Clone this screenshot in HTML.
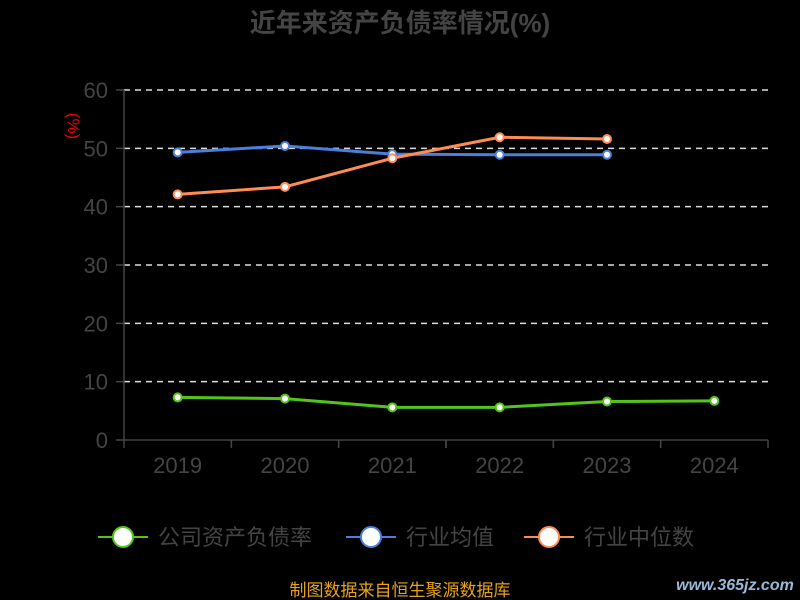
<!DOCTYPE html>
<html><head><meta charset="utf-8"><style>
body{margin:0;background:#000;}
svg{display:block;font-family:"Liberation Sans","Noto Sans CJK SC",sans-serif;}
</style></head><body>
<svg id="c" width="800" height="600" viewBox="0 0 800 600">
<text x="400" y="32" text-anchor="middle" font-size="26" font-weight="bold" fill="#444">近年来资产负债率情况(%)</text>
<text transform="translate(68,126) rotate(90)" text-anchor="middle" font-size="17" fill="#e00">(%)</text>
<g id="grid"></g><g id="axes"></g><g id="series"></g>
<g id="legend"></g>
<text x="400" y="596" text-anchor="middle" font-size="17" fill="#e8a21c">制图数据来自恒生聚源数据库</text>
<text x="735" y="590" text-anchor="middle" font-size="16" font-weight="bold" fill="#9ab8d8" font-style="italic">www.365jz.com</text>
</svg>
<script>
const categories=["2019","2020","2021","2022","2023","2024"];
const yTicks=[0,10,20,30,40,50,60];
const debtRatio=[7.3,7.1,5.6,5.6,6.6,6.7];
const industryAvg=[49.3,50.4,49.0,48.9,48.9];
const industryMedian=[42.1,43.4,48.3,51.9,51.6];
const NS="http://www.w3.org/2000/svg";
const x0=124,x1=768,yB=440,yT=90;
const band=(x1-x0)/categories.length;
const xs=i=>x0+band*(i+0.5);
const ys=v=>yB-(v-0)/(60-0)*(yB-yT);
function mk(t,a,p){const e=document.createElementNS(NS,t);for(const k in a)e.setAttribute(k,a[k]);(p||document.getElementById('c')).appendChild(e);return e;}
const grid=document.getElementById('grid'),axes=document.getElementById('axes'),ser=document.getElementById('series'),leg=document.getElementById('legend');
yTicks.forEach(v=>{
 if(v>0){const g=mk('line',{x1:x0,x2:x1,y1:ys(v),y2:ys(v),stroke:'#ddd','stroke-width':1.5,'stroke-dasharray':'6,5'},grid);
 
 }
 const tk=mk('line',{x1:x0-8,x2:x0,y1:ys(v),y2:ys(v),stroke:'#444','stroke-width':1.5},axes);
 
 
 const t=mk('text',{x:x0-16,y:ys(v)+8,'text-anchor':'end','font-size':22,fill:'#444'},axes);t.textContent=v;
 
 
});
const ya=mk('line',{x1:x0,x2:x0,y1:yT,y2:yB,stroke:'#444','stroke-width':1.5},axes);


const xa=mk('line',{x1:x0,x2:x1,y1:yB,y2:yB,stroke:'#444','stroke-width':1.5},axes);


categories.forEach((c,i)=>{
 for(const xx of [x0+band*i, x0+band*(i+1)]){const l=mk('line',{x1:xx,x2:xx,y1:yB,y2:yB+8,stroke:'#444','stroke-width':1.5},axes);
 
 }
 const t=mk('text',{x:xs(i),y:yB+33,'text-anchor':'middle','font-size':22,fill:'#444'},axes);t.textContent=c;
 
 
});
function series(data,color,name){
 const g=mk('g',{},ser);
 
 
 const p=mk('polyline',{points:data.map((v,i)=>xs(i)+','+ys(v)).join(' '),fill:'none',stroke:color,'stroke-width':3},g);
 
 
 data.forEach((v,i)=>{const c=mk('circle',{cx:xs(i),cy:ys(v),r:4,fill:'#fff',stroke:color,'stroke-width':2},g);
 
 });
}
series(industryAvg,'#4a7fdc','industry-avg');
series(industryMedian,'#ff8c55','industry-median');
series(debtRatio,'#52c41a','debt-ratio');
[['公司资产负债率','#52c41a',98],['行业均值','#4a7fdc',346],['行业中位数','#ff8c55',524]].forEach(([n,col,x])=>{
 const g=mk('g',{},leg);
 
 
 mk('line',{x1:x,x2:x+50,y1:537,y2:537,stroke:col,'stroke-width':2},g);
 mk('circle',{cx:x+25,cy:537,r:10,fill:'#fff',stroke:col,'stroke-width':2},g);
 const t=mk('text',{x:x+60,y:545,'font-size':22,fill:'#444'},g);t.textContent=n;
});
</script>
</body></html>
